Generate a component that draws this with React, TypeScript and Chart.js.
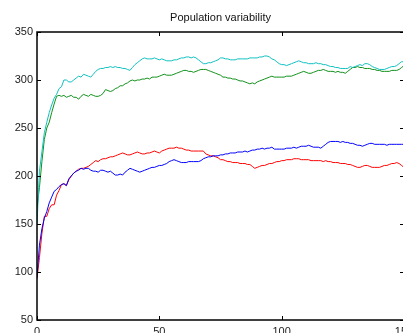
import React, { useEffect, useRef } from "react";
import { Chart, registerables } from "chart.js";

Chart.register(...registerables);

const titleText = "Population variability";
const xTicks = [0, 50, 100, 150];
const yTicks = [50, 100, 150, 200, 250, 300, 350];

const cyanSeries = [
  150, 205, 225, 245, 256, 266, 274, 281, 285, 291, 293, 300, 300, 298, 298, 300, 302, 304, 303, 306,
  305, 304, 303, 306, 309, 311, 312, 312, 313, 313, 314, 313, 314, 313, 313, 312, 312, 311, 310, 313,
  316, 318, 320, 322, 323, 322, 322, 322, 323, 322, 321, 322, 321, 320, 320, 320, 321, 321, 322, 323,
  323, 324, 324, 323, 324, 323, 321, 319, 317, 317, 318, 318, 319, 320, 321, 323, 323, 322, 322, 321,
  321, 321, 322, 322, 322, 322, 322, 323, 323, 323, 323, 324, 324, 325, 325, 324, 322, 321, 319, 317,
  316, 316, 315, 316, 317, 318, 319, 320, 319, 318, 318, 317, 317, 317, 318, 317, 317, 316, 316, 315,
  314, 314, 313, 313, 312, 312, 312, 312, 314, 313, 314, 315, 316, 315, 317, 317, 316, 314, 313, 312,
  311, 311, 311, 312, 313, 314, 314, 315, 317, 319, 319,
];

const greenSeries = [
  167, 188, 215, 238, 250, 256, 266, 275, 283, 284, 283, 284, 282, 283, 284, 282, 282, 280, 283, 285,
  284, 283, 285, 284, 283, 283, 284, 286, 290, 289, 288, 289, 291, 292, 294, 294, 296, 297, 299, 300,
  299, 300, 300, 301, 301, 302, 301, 303, 303, 303, 304, 305, 306, 305, 305, 305, 306, 307, 308, 309,
  310, 310, 309, 309, 308, 309, 310, 311, 311, 311, 310, 309, 308, 307, 306, 305, 303, 303, 302, 302,
  301, 301, 300, 299, 299, 298, 297, 296, 297, 296, 298, 299, 300, 301, 302, 303, 304, 303, 303, 303,
  303, 303, 304, 304, 304, 305, 306, 307, 308, 309, 308, 307, 307, 308, 309, 310, 310, 311, 310, 309,
  309, 309, 308, 309, 308, 308, 307, 309, 311, 313, 313, 314, 313, 313, 312, 312, 312, 311, 311, 310,
  310, 309, 309, 309, 309, 310, 310, 310, 311, 313, 315,
];

const blueSeries = [
  95, 128, 145, 156, 163, 172, 178, 184, 186, 189, 191, 192, 190, 197, 200, 203, 205, 206, 208, 207,
  208, 208, 206, 205, 205, 204, 206, 206, 205, 204, 205, 203, 201, 201, 202, 201, 204, 206, 208, 207,
  206, 205, 204, 205, 206, 207, 208, 209, 209, 210, 211, 211, 212, 213, 215, 216, 217, 216, 215, 214,
  214, 214, 215, 215, 215, 215, 215, 216, 218, 219, 220, 220, 221, 221, 221, 222, 222, 223, 223, 224,
  224, 224, 225, 225, 225, 226, 225, 226, 227, 227, 228, 228, 229, 228, 229, 229, 230, 228, 228, 228,
  228, 228, 229, 229, 229, 230, 229, 230, 231, 231, 231, 232, 231, 230, 230, 230, 229, 231, 233, 235,
  236, 236, 236, 236, 235, 236, 235, 235, 234, 234, 233, 232, 232, 231, 232, 233, 234, 234, 233, 233,
  233, 233, 233, 232, 233, 233, 233, 233, 233, 233, 233,
];

const redSeries = [
  93, 115, 140, 158, 158, 166, 170, 170, 180, 185, 191, 192, 190, 196, 200, 203, 205, 207, 208, 208,
  209, 210, 212, 214, 216, 215, 217, 218, 218, 219, 220, 220, 221, 222, 223, 224, 223, 222, 222, 223,
  224, 225, 224, 223, 223, 224, 224, 225, 226, 225, 224, 226, 227, 228, 229, 229, 229, 230, 229, 229,
  228, 227, 227, 226, 226, 226, 226, 226, 226, 223, 222, 221, 221, 220, 219, 217, 217, 216, 215, 215,
  214, 214, 214, 213, 213, 213, 212, 212, 210, 208, 209, 210, 211, 211, 212, 213, 213, 214, 215, 215,
  216, 216, 217, 217, 217, 218, 218, 218, 217, 217, 217, 217, 216, 216, 216, 216, 216, 215, 216, 215,
  215, 214, 214, 214, 213, 213, 213, 212, 212, 211, 210, 209, 209, 210, 211, 211, 210, 209, 209, 209,
  209, 210, 211, 211, 212, 213, 213, 214, 213, 211, 209,
];

const toPoints = (arr: number[]) => arr.map((v, i) => ({ x: i, y: v }));

const FONT = "'Liberation Sans', Arial, Helvetica, sans-serif";

const boxPlugin = {
  id: "matlabBox",
  afterDatasetsDraw(chart: any) {
    const { ctx, chartArea, scales } = chart;
    const { left, right, top, bottom } = chartArea;
    ctx.save();
    ctx.strokeStyle = "#000";
    ctx.lineWidth = 1;
    const tl = 4;
    ctx.beginPath();
    for (const v of xTicks) {
      const px = Math.round(scales.x.getPixelForValue(v)) + 0.5;
      ctx.moveTo(px, bottom);
      ctx.lineTo(px, bottom - tl);
      ctx.moveTo(px, top);
      ctx.lineTo(px, top + tl);
    }
    for (const v of yTicks) {
      const py = Math.round(scales.y.getPixelForValue(v)) + 0.5;
      ctx.moveTo(left, py);
      ctx.lineTo(left + tl, py);
      ctx.moveTo(right, py);
      ctx.lineTo(right - tl, py);
    }
    ctx.stroke();
    ctx.lineWidth = 1.5;
    ctx.strokeRect(left, top, right - left, bottom - top);
    ctx.restore();
  },
};

export default function App() {
  const ref = useRef<HTMLCanvasElement | null>(null);

  useEffect(() => {
    if (!ref.current) return;
    const mk = (label: string, data: number[], color: string) => ({
      label,
      data: toPoints(data),
      borderColor: color,
      backgroundColor: color,
      borderWidth: 1,
      pointRadius: 0,
      tension: 0,
      fill: false,
    });
    const chart = new Chart(ref.current, {
      type: "line",
      data: {
        datasets: [
          mk("cyan", cyanSeries, "#10c0c0"),
          mk("green", greenSeries, "#10901a"),
          mk("blue", blueSeries, "#0000ff"),
          mk("red", redSeries, "#ff0000"),
        ],
      },
      options: {
        responsive: false,
        animation: false,
        devicePixelRatio: 1,
        layout: { padding: { left: 0, right: 8, top: 0, bottom: 0 } },
        plugins: {
          legend: { display: false },
          tooltip: { enabled: false },
          title: {
            display: true,
            text: titleText,
            fullSize: false,
            color: "#111",
            font: { family: FONT, size: 11, weight: "normal" },
            padding: { top: 11, bottom: 7.8 },
          },
        },
        scales: {
          x: {
            type: "linear",
            min: 0,
            max: 150,
            afterBuildTicks: (s: any) => {
              s.ticks = xTicks.map((v) => ({ value: v }));
            },
            afterFit: (s: any) => {
              s.height = 13;
              s.paddingLeft = 0;
              s.paddingRight = 0;
            },
            grid: { display: false, drawTicks: false },
            border: { display: false },
            ticks: {
              autoSkip: false,
              maxRotation: 0,
              padding: 5,
              color: "#222",
              font: { family: FONT, size: 11 },
            },
          },
          y: {
            type: "linear",
            min: 50,
            max: 350,
            afterBuildTicks: (s: any) => {
              s.ticks = yTicks.map((v) => ({ value: v }));
            },
            afterFit: (s: any) => {
              s.width = 37;
              s.paddingTop = 0;
              s.paddingBottom = 0;
            },
            grid: { display: false, drawTicks: false },
            border: { display: false },
            ticks: {
              autoSkip: false,
              padding: 4,
              color: "#222",
              font: { family: FONT, size: 11 },
            },
          },
        },
      },
      plugins: [boxPlugin],
    } as any);
    return () => chart.destroy();
  }, []);

  return (
    <div
      style={{
        position: "fixed",
        left: 0,
        top: 0,
        width: 403,
        height: 333,
        overflow: "hidden",
        background: "#fff",
      }}
    >
      <canvas ref={ref} width={412} height={333} style={{ width: 412, height: 333, display: "block" }} />
    </div>
  );
}
